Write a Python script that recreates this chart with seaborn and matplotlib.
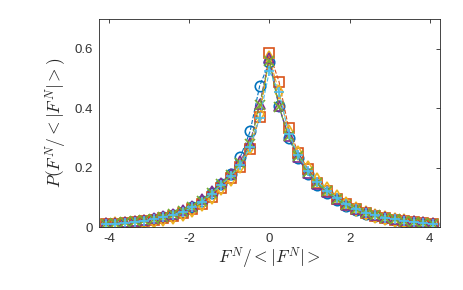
import numpy as np
import pandas as pd
import matplotlib
matplotlib.use("Agg")
import matplotlib.pyplot as plt
import seaborn as sns

# bin centres (shared by all series)
x = np.round(np.arange(-17, 18) * 0.24, 2)

blue = [0.010, 0.012, 0.015, 0.018, 0.021, 0.026, 0.034, 0.041, 0.052, 0.067, 0.087, 0.114, 0.146, 0.180, 0.237, 0.322, 0.476,
        0.555,
        0.406, 0.300, 0.232, 0.178, 0.142, 0.114, 0.090, 0.070, 0.056, 0.045, 0.036, 0.029, 0.023, 0.018, 0.014, 0.011, 0.009]
orange = [0.009, 0.011, 0.013, 0.016, 0.019, 0.024, 0.030, 0.037, 0.047, 0.060, 0.079, 0.102, 0.133, 0.165, 0.203, 0.262, 0.372,
          0.585,
          0.490, 0.334, 0.250, 0.195, 0.150, 0.120, 0.095, 0.076, 0.060, 0.048, 0.038, 0.031, 0.025, 0.020, 0.016, 0.013, 0.010]
yellow = [0.007, 0.009, 0.011, 0.014, 0.017, 0.021, 0.027, 0.034, 0.044, 0.057, 0.076, 0.100, 0.130, 0.162, 0.205, 0.268, 0.380,
          0.570,
          0.455, 0.320, 0.248, 0.198, 0.158, 0.128, 0.100, 0.078, 0.062, 0.049, 0.038, 0.030, 0.024, 0.019, 0.015, 0.011, 0.008]
purple = [0.013, 0.015, 0.018, 0.021, 0.025, 0.030, 0.037, 0.045, 0.056, 0.072, 0.093, 0.120, 0.150, 0.180, 0.222, 0.284, 0.415,
          0.568,
          0.408, 0.305, 0.235, 0.182, 0.145, 0.118, 0.094, 0.075, 0.061, 0.050, 0.041, 0.034, 0.028, 0.023, 0.019, 0.016, 0.013]
green = [0.011, 0.013, 0.016, 0.019, 0.023, 0.028, 0.035, 0.043, 0.054, 0.069, 0.089, 0.116, 0.146, 0.176, 0.215, 0.278, 0.410,
         0.560,
         0.405, 0.305, 0.238, 0.186, 0.148, 0.120, 0.095, 0.075, 0.060, 0.048, 0.039, 0.032, 0.026, 0.021, 0.017, 0.013, 0.010]
cyan = [0.010, 0.012, 0.015, 0.018, 0.022, 0.027, 0.034, 0.042, 0.052, 0.066, 0.086, 0.112, 0.142, 0.172, 0.210, 0.270, 0.368,
        0.525,
        0.455, 0.315, 0.243, 0.190, 0.152, 0.122, 0.097, 0.077, 0.061, 0.049, 0.039, 0.032, 0.026, 0.021, 0.017, 0.013, 0.010]

series = [
    (blue, "#0072BD", "o"),
    (orange, "#D95319", "s"),
    (yellow, "#EDB120", "d"),
    (purple, "#7E2F8E", "^"),
    (green, "#77AC30", "x"),
    (cyan, "#4DBEEE", "+"),
]

sns.set_style("white")
plt.rcParams["mathtext.fontset"] = "cm"
plt.rcParams["font.family"] = ["Liberation Sans", "DejaVu Sans"]

fig = plt.figure(figsize=(4.64, 2.9), dpi=100)
ax = fig.add_axes([0.213, 0.217, 0.735, 0.717])

for vals, col, mk in series:
    df = pd.DataFrame({"x": x, "y": vals})
    sns.lineplot(data=df, x="x", y="y", ax=ax, color=col, marker=mk, linestyle="--",
                 linewidth=0.8, markersize=7.5, fillstyle="none", markeredgewidth=1.2,
                 markeredgecolor=col)

ax.set_xlim(-4.25, 4.25)
ax.set_ylim(0, 0.7)
ax.set_xticks([-4, -2, 0, 2, 4])
ax.set_yticks([0, 0.2, 0.4, 0.6])
ax.set_xticklabels(["-4", "-2", "0", "2", "4"])
ax.set_yticklabels(["0", "0.2", "0.4", "0.6"])
ax.tick_params(direction="in", length=3, width=0.6, labelsize=9.5, colors="#262626",
               labelcolor="#333333", top=True, right=True, pad=4)
for s in ax.spines.values():
    s.set_visible(True)
    s.set_color("#262626")
    s.set_linewidth(0.6)
ax.set_xlabel(r"$F^N/<|F^N|>$", fontsize=12.5, color="#262626", labelpad=1)
ax.set_ylabel(r"$P(F^N/<|F^N|>)$", fontsize=12.5, color="#262626", labelpad=4)

fig.savefig("out.png", dpi=100)
